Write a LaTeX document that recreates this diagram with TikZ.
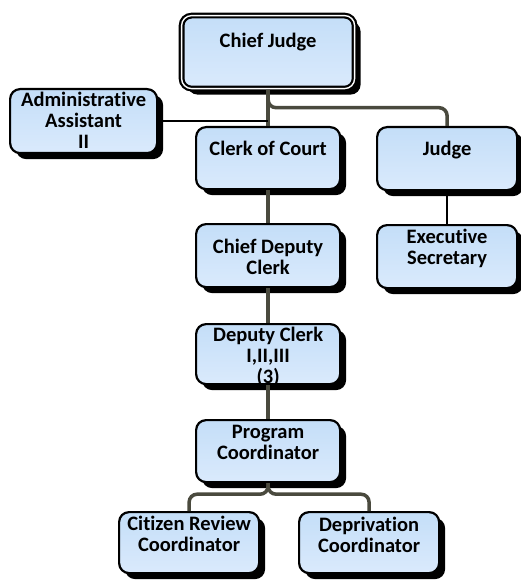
\documentclass[tikz,border=0pt]{standalone}
\usepackage{fontspec}
\setmainfont{Carlito}[Ligatures=NoCommon]
\usepackage{tikz}
\usetikzlibrary{shadows}
\definecolor{boxtop}{RGB}{196,222,248}
\definecolor{boxbottom}{RGB}{218,234,252}
\definecolor{linkgray}{RGB}{74,74,62}
\tikzset{
	post/.style={draw=black, line width=2.2pt, rounded corners=10pt,
		top color=boxtop, bottom color=boxbottom, inner sep=0pt, anchor=north west,
		font=\fontsize{20.5}{21}\selectfont\bfseries,
		drop shadow={shadow xshift=6pt, shadow yshift=-6pt, fill=black, opacity=1}},
	head/.style={post, line width=2.2pt, double=white, double distance=1.4pt},
	link/.style={draw=linkgray, line width=3.5pt, rounded corners=8pt},
	thinlink/.style={draw=black, line width=1.8pt},
}
% text block of a post: width, height, top gap, text
\newcommand{\orgcell}[4]{\parbox[t][#2pt][t]{#1pt}{\centering\vspace*{#3pt}#4}}

\begin{document}
\begin{tikzpicture}[x=1pt,y=-1pt]
	\useasboundingbox (0,0) rectangle (520,580);
	
	% posts, placed by their top left corner
	\node[head] (cj) at (180.5,14.5) {\orgcell{173}{73}{18}{Chief Judge}};
	\node[post] (aa) at (9,88) {\orgcell{147}{64}{3}{Administrative\\Assistant\\II}};
	\node[post] (cc) at (195,126) {\orgcell{144}{62}{14}{Clerk of Court}};
	\node[post] (judge) at (376,126) {\orgcell{140}{63}{14}{Judge}};
	\node[post] (cdc) at (195,223) {\orgcell{144}{63}{15}{Chief Deputy\\Clerk}};
	\node[post] (es) at (376,224) {\orgcell{140}{63}{4}{Executive\\Secretary}};
	\node[post] (dc) at (195,323) {\orgcell{144}{60}{3}{Deputy Clerk\\I,II,III\\(3)}};
	\node[post] (pc) at (195,419) {\orgcell{144}{62}{5}{Program\\Coordinator}};
	\node[post] (crc) at (118,511) {\orgcell{140}{61}{4}{Citizen Review\\Coordinator}};
	\node[post] (dep) at (298,511) {\orgcell{140}{61}{5}{Deprivation\\Coordinator}};
	
	% reporting lines
	\draw[link] (cj.south) -- (cc.north);
	\draw[link] (cj.south) -- ++(0,18) -| (judge.north);
	\draw[thinlink] (aa.east) -- (aa.east -| cj.south);
	\draw[thinlink] (judge.south) -- (es.north);
	\draw[link] (cc.south) -- (cdc.north);
	\draw[link] (cdc.south) -- (dc.north);
	\draw[link] (dc.south) -- (pc.north);
	\draw[link] (pc.south) -- ++(0,11) -| (crc.north);
	\draw[link] (pc.south) -- ++(0,11) -| (dep.north);
	
\end{tikzpicture}
\end{document}
